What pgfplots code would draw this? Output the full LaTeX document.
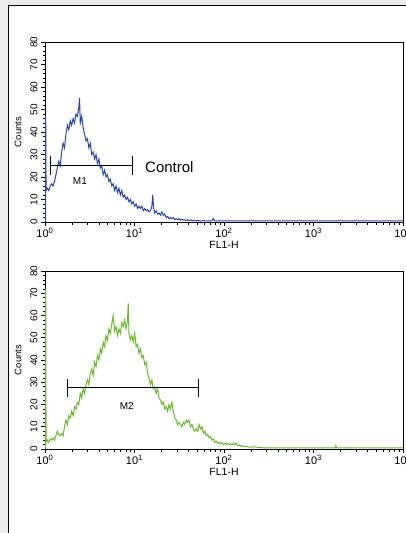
\documentclass[border=0pt]{standalone}
\usepackage{fontspec}
\setmainfont{Liberation Sans}
\usepackage{pgfplots}
\pgfplotsset{compat=1.18}

\definecolor{bgray}{RGB}{236,236,236}
\definecolor{fblue}{RGB}{40,70,180}
\definecolor{fgreen}{RGB}{105,185,45}

\pgfplotsset{
  facs/.style={
    scale only axis, width=358pt,
    xmin=0, xmax=4, ymin=0, ymax=80,
    xtick={0,1,2,3,4},
    xticklabels={10\textsuperscript{0},10\textsuperscript{1},10\textsuperscript{2},10\textsuperscript{3},10\textsuperscript{4}},
    minor xtick={0.301,0.477,0.602,0.699,0.778,0.845,0.903,0.954,
                 1.301,1.477,1.602,1.699,1.778,1.845,1.903,1.954,
                 2.301,2.477,2.602,2.699,2.778,2.845,2.903,2.954,
                 3.301,3.477,3.602,3.699,3.778,3.845,3.903,3.954},
    ytick={0,10,...,80}, minor y tick num=4,
    tick align=outside, tick pos=left,
    major tick length=4pt, minor tick length=2.5pt,
    every tick/.style={black, line width=0.6pt},
    axis line style={black, line width=0.9pt},
    /pgf/number format/assume math mode=true,
    xticklabel style={font=\fontsize{11}{12}\selectfont, yshift=1pt},
    yticklabel style={font=\fontsize{10}{11}\selectfont, rotate=90, anchor=south},
    xlabel={FL1-H}, ylabel={Counts},
    xlabel style={font=\fontsize{10.5}{11}\selectfont, yshift=4pt},
    ylabel style={font=\fontsize{9.5}{10}\selectfont, yshift=2pt},
  },
}

\begin{document}
\begin{tikzpicture}
\useasboundingbox (0pt,0pt) rectangle (406pt,-533pt);
\begin{scope}
\clip (0pt,0pt) rectangle (406pt,-533pt);
\fill[bgray] (0pt,0pt) rectangle (406pt,-533pt);
\filldraw[fill=white, draw=black, line width=1pt] (8.5pt,-5.5pt) rectangle (440pt,-560pt);

% Control
\begin{axis}[facs, height=180pt, at={(45pt,-222pt)}, anchor=south west]
\addplot[fblue, line width=1pt] coordinates {
(0.008,0) (0.008,47) (0.012,14) (0.026,15) (0.042,14) (0.058,16) (0.074,17) (0.090,16) (0.106,18)
(0.122,21) (0.138,24) (0.154,27) (0.170,25) (0.186,31) (0.202,35) (0.218,33) (0.234,39)
(0.250,43) (0.266,41) (0.282,45) (0.298,43) (0.314,46) (0.330,44) (0.346,48) (0.362,47)
(0.378,51) (0.386,55) (0.394,44) (0.410,47) (0.426,42) (0.442,39) (0.458,36) (0.474,37)
(0.490,33) (0.506,35) (0.522,30) (0.538,31) (0.554,28) (0.570,30) (0.586,26) (0.602,28)
(0.618,24) (0.634,25) (0.650,21) (0.666,23) (0.682,20) (0.698,21) (0.714,18) (0.730,19)
(0.746,16) (0.762,17) (0.778,14) (0.794,16) (0.810,13) (0.826,15) (0.842,12) (0.858,14)
(0.874,11) (0.890,12) (0.906,10) (0.922,11) (0.938,9) (0.954,10) (0.970,8) (0.986,9)
(1.002,7) (1.018,8) (1.034,6) (1.050,7) (1.066,6) (1.082,7) (1.098,5) (1.114,6)
(1.130,5) (1.146,5.5) (1.162,4.5) (1.178,5) (1.194,7) (1.204,12) (1.214,6) (1.226,4)
(1.242,5) (1.258,3.5) (1.274,4) (1.290,3) (1.306,4.5) (1.322,3) (1.338,3.5) (1.354,2)
(1.370,2.5) (1.386,1.5) (1.402,2) (1.418,1.5) (1.434,2) (1.450,1) (1.466,1.5) (1.482,1)
(1.498,1.5) (1.514,0.8) (1.530,1.2) (1.546,0.8) (1.562,1) (1.578,0.6) (1.594,1) (1.610,0.6)
(1.630,0.9) (1.650,0.5) (1.670,0.8) (1.690,0.5) (1.710,0.7) (1.740,0.4) (1.770,0.6) (1.800,0.5)
(1.860,0.5) (1.880,1.5) (1.895,0.5) (2.000,0.5) (4.000,0.5)
};
\addplot[black, line width=0.7pt] coordinates {(0.056,25) (0.976,25)};
\addplot[black, line width=0.7pt] coordinates {(0.056,21) (0.056,29.3)};
\addplot[black, line width=0.7pt] coordinates {(0.976,21) (0.976,29.3)};
\node[font=\fontsize{10}{11}\selectfont] at (axis cs:0.39,18) {M1};
\node[font=\fontsize{15}{16}\selectfont, anchor=west] at (axis cs:1.08,24.5) {Control};
\end{axis}

% sample
\begin{axis}[facs, height=178pt, at={(45pt,-449pt)}, anchor=south west]
\addplot[fgreen, line width=1pt] coordinates {
(0.008,0) (0.008,72) (0.012,3) (0.026,4) (0.042,3) (0.058,4.5) (0.074,4) (0.090,5) (0.106,4)
(0.122,6) (0.138,8) (0.154,6.5) (0.170,6) (0.186,7) (0.202,6) (0.218,10) (0.234,13)
(0.250,11) (0.266,15) (0.282,14) (0.298,17) (0.314,15) (0.330,19) (0.346,18) (0.362,21)
(0.378,20) (0.394,25) (0.410,23) (0.426,27) (0.442,25) (0.458,29) (0.474,31) (0.490,29)
(0.506,34) (0.522,36) (0.538,33) (0.554,39) (0.570,37) (0.586,42) (0.602,40) (0.618,45)
(0.634,43) (0.650,48) (0.666,46) (0.682,51) (0.698,49) (0.714,54) (0.730,52) (0.746,56)
(0.762,60) (0.778,53) (0.794,55) (0.810,51) (0.826,54) (0.842,52) (0.858,57) (0.874,55)
(0.890,58) (0.906,54) (0.922,58) (0.930,65.5) (0.938,52) (0.954,49) (0.970,51) (0.986,48)
(1.002,52) (1.018,46) (1.034,47) (1.050,43) (1.066,45) (1.082,41) (1.098,42) (1.114,38)
(1.130,39) (1.146,34) (1.162,32) (1.178,29) (1.194,31) (1.210,27) (1.226,28) (1.242,25)
(1.258,27) (1.274,23) (1.290,22) (1.306,20) (1.322,21) (1.338,18) (1.354,19) (1.370,17)
(1.386,20) (1.402,18) (1.418,21) (1.434,17) (1.450,14) (1.466,13) (1.482,11) (1.498,12)
(1.514,11) (1.530,10) (1.546,12) (1.562,11) (1.578,13) (1.594,12) (1.610,13) (1.626,10)
(1.642,11) (1.658,9) (1.674,8) (1.690,9) (1.706,8) (1.722,11) (1.738,9) (1.754,10)
(1.770,7) (1.786,8) (1.802,6) (1.818,6.5) (1.834,5) (1.850,5.5) (1.866,4) (1.882,4.5)
(1.898,3) (1.914,3.5) (1.930,2.5) (1.946,3) (1.962,2.5) (1.978,2.8) (1.994,2) (2.010,2.5)
(2.026,2) (2.042,2.6) (2.058,2) (2.074,2.3) (2.090,1.8) (2.106,2.6) (2.122,2) (2.138,2.5)
(2.154,1.5) (2.170,1.8) (2.186,1.2) (2.202,1.5) (2.218,1) (2.250,1.2) (2.280,0.8) (2.330,1)
(2.400,0.6) (2.480,0.5) (3.240,0.5) (3.250,1.5) (3.260,0.5) (4.000,0.5)
};
\addplot[black, line width=0.7pt] coordinates {(0.253,27.6) (1.713,27.6)};
\addplot[black, line width=0.7pt] coordinates {(0.253,23.5) (0.253,31.3)};
\addplot[black, line width=0.7pt] coordinates {(1.713,23.5) (1.713,31.3)};
\node[font=\fontsize{10}{11}\selectfont] at (axis cs:0.913,19.5) {M2};
\end{axis}
\end{scope}
\end{tikzpicture}
\end{document}
